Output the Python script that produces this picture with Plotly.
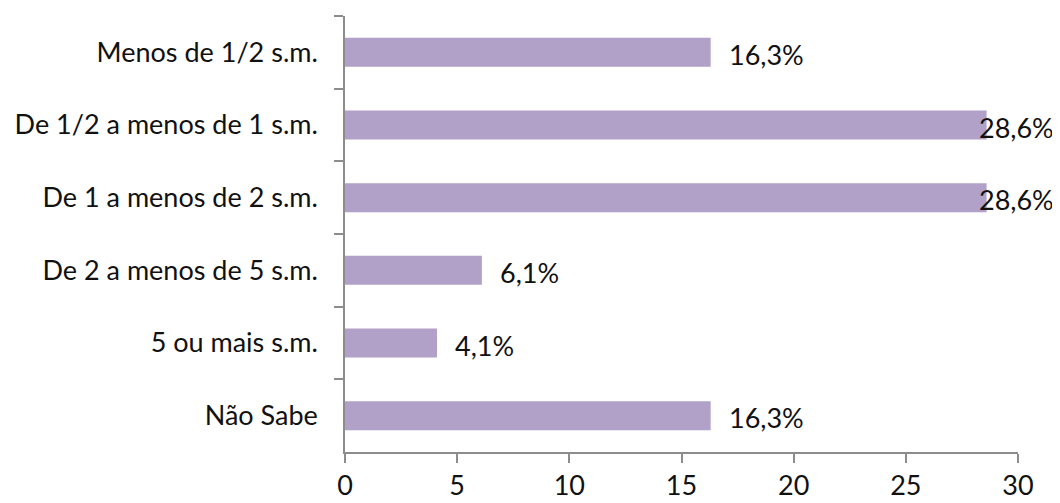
import plotly.graph_objects as go

categories = ["Menos de 1/2 s.m.", "De 1/2 a menos de 1 s.m.", "De 1 a menos de 2 s.m.",
              "De 2 a menos de 5 s.m.", "5 ou mais s.m.", "Não Sabe"]
values = [16.3, 28.6, 28.6, 6.1, 4.1, 16.3]
x_ticks = [0, 5, 10, 15, 20, 25, 30]

labels = [f"{v:.1f}%".replace(".", ",") for v in values]

axis_grey = "#8c8c8c"

fig = go.Figure()
fig.add_trace(go.Bar(
    y=categories,
    x=values,
    orientation="h",
    width=0.4,
    marker=dict(color="#B1A0C7", line=dict(width=0)),
    hoverinfo="x+y",
))

# data labels sit a little past the bar end; the long ones get pulled back in (as Excel does)
for cat, val, lab in zip(categories, values, labels):
    fig.add_annotation(
        x=val, y=cat, text=lab, showarrow=False,
        xanchor="left", yanchor="middle",
        xshift=16 if val < 25 else -10, yshift=-2,
        font=dict(family="Lato", size=27, color="#111111"),
    )

# page body has an 8px margin, so the figure is shrunk/shifted to compensate
fig.update_layout(
    width=1052, height=495,
    margin=dict(l=337, r=42, t=8, b=51),
    paper_bgcolor="white", plot_bgcolor="white",
    font=dict(family="Lato", size=27, color="#111111"),
    showlegend=False,
    xaxis=dict(
        range=[0, 30], tickvals=x_ticks, showgrid=False, zeroline=False,
        showline=True, linecolor=axis_grey, linewidth=1.5,
        ticks="outside", ticklen=9, tickcolor=axis_grey, tickwidth=1.5,
        ticklabelstandoff=0, automargin=False,
    ),
    yaxis=dict(
        autorange="reversed", showgrid=False, zeroline=False,
        showline=True, linecolor=axis_grey, linewidth=1.5,
        ticks="outside", ticklen=9, tickcolor=axis_grey, tickwidth=1.5,
        tickson="boundaries", ticklabelstandoff=20, automargin=False,
    ),
)

fig.write_html("out.html")
